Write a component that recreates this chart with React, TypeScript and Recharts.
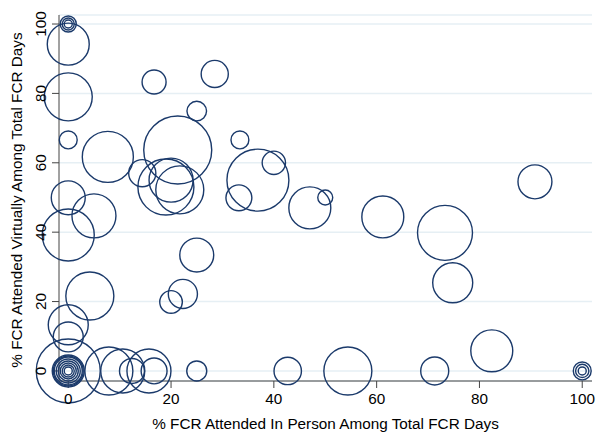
import {
  ScatterChart,
  Scatter,
  XAxis,
  YAxis,
  ZAxis,
  CartesianGrid,
  Label
} from 'recharts';

// % in person, % virtual, weight (bubble area) per observation
const inPerson = [
  0, 0, 0, 0, 0, 16.7, 28.5, 25, 0, 21.3, 33.4, 7.7, 14.4, 40, 36.9, 33.2, 0,
  19, 20, 21.7, 5, 0, 25, 4.2, 22.3, 20, 0, 0,
  0, 0, 0, 0, 0, 0, 0, 0, 0,
  7.9, 10.6, 12.4, 15.7, 16.7, 25, 42.7, 54.4, 71.3, 82.4,
  100, 100, 100,
  47, 50, 61.2, 90.8, 73.3, 74.8
];
const virtual = [
  100, 100, 100, 94.2, 79, 83.3, 85.6, 74.9, 66.6, 63.7, 66.6, 61.7, 57, 60, 55, 49.9, 49.9,
  53, 55, 52.2, 44.7, 39.2, 33.4, 21.6, 22.2, 19.9, 13.3, 9.8,
  0, 0, 0, 0, 0, 0, 0, 0, 0,
  0, 0, 0, 0, 0, 0, 0, 0, 0, 5.8,
  0, 0, 0,
  47, 50, 44.4, 54.5, 39.8, 25.4
];
const weight = [
  16, 9, 4, 110, 144, 36, 46, 24, 20, 289, 20, 163, 46, 34, 240, 42, 72,
  196, 121, 144, 121, 169, 72, 144, 53, 32, 100, 56,
  256, 64, 56, 49, 36, 25, 16, 9, 4,
  144, 121, 39, 121, 42, 25, 47, 144, 49, 110,
  20, 11, 4,
  110, 14, 110, 72, 189, 100
];

const xTicks = [0, 20, 40, 60, 80, 100];
const yTicks = [0, 20, 40, 60, 80, 100];

const data = inPerson.map((x, i) => ({ x, y: virtual[i], w: weight[i] }));

const FONT = '"Liberation Sans", Arial, Helvetica, sans-serif';

function YTick(props: any) {
  const { x, y, payload } = props;
  return (
    <text
      x={x}
      y={y}
      transform={`rotate(-90, ${x}, ${y})`}
      textAnchor="middle"
      fontSize={15.3}
      fontFamily={FONT}
      fill="#000"
    >
      {payload.value}
    </text>
  );
}

function YTitle(props: any) {
  const { viewBox } = props;
  const cx = 21.5;
  const cy = viewBox.y + viewBox.height / 2 + 2;
  return (
    <text
      x={cx}
      y={cy}
      transform={`rotate(-90, ${cx}, ${cy})`}
      textAnchor="middle"
      fontSize={15.3}
      fontFamily={FONT}
      fill="#000"
    >
      % FCR Attended Virtually Among Total FCR Days
    </text>
  );
}

export default function App() {
  return (
    <div style={{ position: 'absolute', left: 0, top: 0, background: '#fff' }}>
      <ScatterChart
        width={600}
        height={433}
        margin={{ top: 15, right: 8, left: 0, bottom: 0 }}
      >
        <CartesianGrid vertical={false} stroke="#e6eff4" strokeWidth={1.5} />
        <XAxis
          type="number"
          dataKey="x"
          domain={[-1.8, 101.9]}
          ticks={xTicks}
          height={52}
          tickSize={7}
          tickMargin={5}
          stroke="#444"
          tick={{ fontSize: 15.3, fill: '#000', fontFamily: FONT }}
        >
          <Label
            value="% FCR Attended In Person Among Total FCR Days"
            position="insideBottom"
            offset={4}
            style={{ fontSize: 15.3, fill: '#000', fontFamily: FONT }}
          />
        </XAxis>
        <YAxis
          type="number"
          dataKey="y"
          domain={[-2.9, 102.6]}
          ticks={yTicks}
          width={59}
          tickSize={7}
          tickMargin={6}
          stroke="#444"
          tick={<YTick />}
          label={<YTitle />}
        />
        <ZAxis type="number" dataKey="w" domain={[0, 300]} range={[0, 300 * 4 * Math.PI]} />
        <Scatter
          data={data}
          fill="none"
          stroke="#1b3a6b"
          strokeWidth={1.4}
          isAnimationActive={false}
        />
      </ScatterChart>
    </div>
  );
}
